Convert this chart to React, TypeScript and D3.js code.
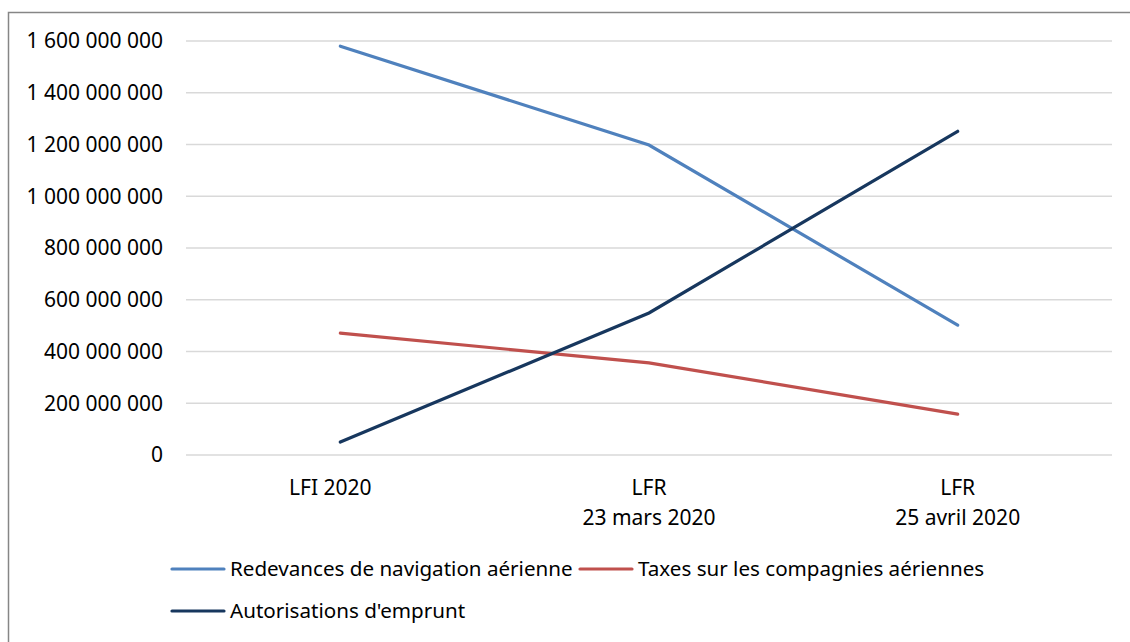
import React from "react";
import * as d3 from "d3";

const categories = [["LFI 2020"], ["LFR", "23 mars 2020"], ["LFR", "25 avril 2020"]];
const redevances = [1580000000, 1198000000, 502000000];
const taxes = [471000000, 356000000, 158000000];
const emprunt = [50000000, 549000000, 1251000000];
const yTicks = [0, 200000000, 400000000, 600000000, 800000000, 1000000000, 1200000000, 1400000000, 1600000000];

const series = [
  { name: "Redevances de navigation aérienne", values: redevances, color: "#4F81BD" },
  { name: "Taxes sur les compagnies aériennes", values: taxes, color: "#C0504D" },
  { name: "Autorisations d'emprunt", values: emprunt, color: "#17375E" },
];

const width = 1130;
const height = 642;
const font = "'Noto Sans', sans-serif";

const fmt = (v: number) => d3.format(",")(v).replace(/,/g, " ");

const App = () => {
  const x = d3
    .scaleBand<number>()
    .domain(d3.range(categories.length))
    .range([186, 1112])
    .padding(0);
  const y = d3.scaleLinear().domain([0, 1600000000]).range([455, 41]);

  const line = d3
    .line<number>()
    .x((d, i) => x(i)! + x.bandwidth() / 2)
    .y((d) => y(d));

  const legendRows = [
    [{ s: series[0], x: 172 }, { s: series[1], x: 580 }],
    [{ s: series[2], x: 172 }],
  ];

  return (
    <svg
      width={width}
      height={height}
      style={{ position: "absolute", left: 0, top: 0, background: "#fff" }}
      fontFamily={font}
    >
      <rect x={8.5} y={12.5} width={1200} height={700} fill="#fff" stroke="#868686" strokeWidth={1.5} />
      {yTicks.map((t) => (
        <g key={t}>
          <line x1={186} x2={1112} y1={y(t)} y2={y(t)} stroke="#d9d9d9" strokeWidth={1.5} />
          <text x={163} y={y(t)} dy="0.35em" textAnchor="end" fontSize={21} fill="#000">
            {fmt(t)}
          </text>
        </g>
      ))}
      {categories.map((c, i) => (
        <text key={i} y={488} textAnchor="middle" fontSize={21} fill="#000">
          {c.map((l, j) => (
            <tspan key={j} x={x(i)! + x.bandwidth() / 2 - (c.length > 1 ? 0 : 10)} dy={j === 0 ? "0.35em" : 30}>
              {l}
            </tspan>
          ))}
        </text>
      ))}
      {series.map((s) => (
        <path key={s.name} d={line(s.values)!} fill="none" stroke={s.color} strokeWidth={3.2} strokeLinecap="round" />
      ))}
      {legendRows.map((row, r) =>
        row.map((it) => (
          <g key={it.s.name} transform={`translate(${it.x},${569 + r * 42})`}>
            <line x1={0} x2={52} y1={0} y2={0} stroke={it.s.color} strokeWidth={3.2} strokeLinecap="round" />
            <text x={58} y={0} dy="0.35em" fontSize={20.6} fill="#000">
              {it.s.name}
            </text>
          </g>
        ))
      )}
    </svg>
  );
};

export default App;
